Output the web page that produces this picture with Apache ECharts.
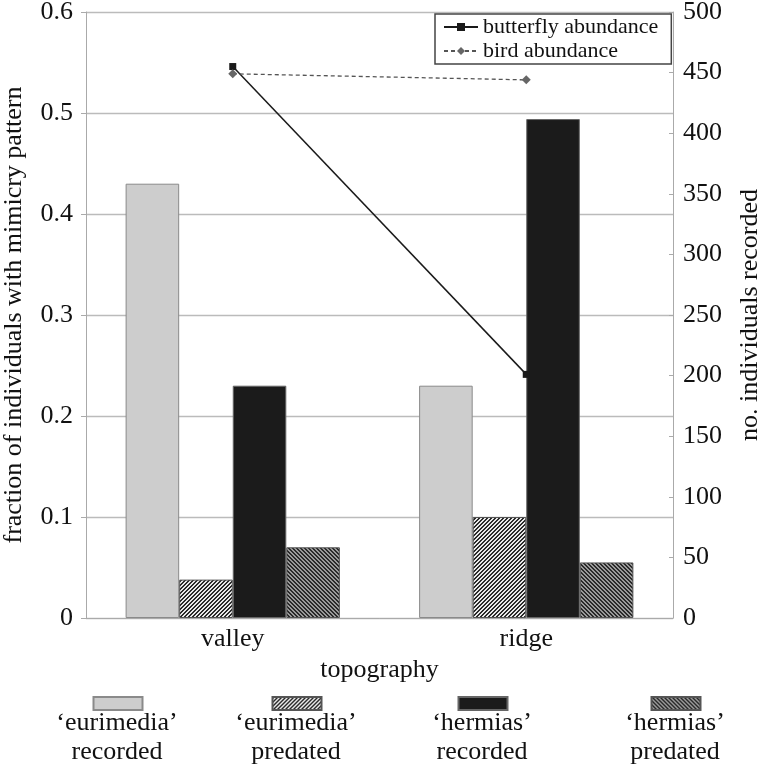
<!DOCTYPE html>
<html><head><meta charset="utf-8">
<script src="https://cdn.jsdelivr.net/npm/echarts@6/dist/echarts.min.js"></script>
<style>html,body{margin:0;padding:0;background:#fff}#c{width:764px;height:766px}</style>
</head><body><div id="c"></div>
<script>
const categories = ['valley', 'ridge'];
const eurimediaRecorded = [0.43, 0.23];
const eurimediaPredated = [0.038, 0.10];
const hermiasRecorded = [0.23, 0.494];
const hermiasPredated = [0.07, 0.055];
const butterflyAbundance = [455, 201];
const birdAbundance = [449, 444];
const leftTicks = {min: 0, max: 0.6, interval: 0.1};
const rightTicks = {min: 0, max: 500, interval: 50};
const barNames = ["‘eurimedia’ recorded", "‘eurimedia’ predated", "‘hermias’ recorded", "‘hermias’ predated"];
const barLabels = [["‘eurimedia’", "recorded"], ["‘eurimedia’", "predated"], ["‘hermias’", "recorded"], ["‘hermias’", "predated"]];
const lineNames = ['butterfly abundance', 'bird abundance'];

function makePattern(dir, fg, bg) {
  const c = document.createElement('canvas');
  c.width = 4; c.height = 4;
  const ctx = c.getContext('2d');
  ctx.fillStyle = bg; ctx.fillRect(0, 0, 4, 4);
  ctx.fillStyle = fg;
  for (let x = 0; x < 4; x++) for (let y = 0; y < 4; y++) {
    const k = dir > 0 ? (x + y) % 4 : ((x - y) % 4 + 4) % 4;
    if (k === 0 || k === 1) ctx.fillRect(x, y, 1, 1);
  }
  return {image: c, repeat: 'repeat'};
}
const patUp = makePattern(1, '#2a2a2a', '#e8e8e8');
const patDown = makePattern(-1, '#2a2a2a', '#9a9a9a');

const FONT = "Liberation Serif";
const chart = echarts.init(document.getElementById('c'));
const barStyles = [
  {color: '#cdcdcd', borderColor: '#8a8a8a', borderWidth: 1},
  {color: patUp, borderColor: '#555', borderWidth: 1},
  {color: '#1b1b1b', borderColor: '#666', borderWidth: 1},
  {color: patDown, borderColor: '#555', borderWidth: 1}
];
const barData = [eurimediaRecorded, eurimediaPredated, hermiasRecorded, hermiasPredated];
const legendCenters = [117, 296, 482, 675];
const ICON_W = 49;

const series = barData.map((d, i) => ({
  name: barNames[i], type: 'bar', yAxisIndex: 0, data: d,
  barCategoryGap: '27%', barGap: '0%',
  itemStyle: barStyles[i], emphasis: {disabled: true}
}));
series.push({
  name: lineNames[0], type: 'line', yAxisIndex: 1, data: butterflyAbundance,
  symbol: 'rect', symbolSize: 7, z: 5,
  lineStyle: {color: '#1a1a1a', width: 1.5}, itemStyle: {color: '#1a1a1a'}
});
series.push({
  name: lineNames[1], type: 'line', yAxisIndex: 1, data: birdAbundance,
  symbol: 'diamond', symbolSize: 9, z: 5,
  lineStyle: {color: '#555', width: 1.3, type: [4, 3]}, itemStyle: {color: '#666'}
});

const legends = [{
  data: lineNames, orient: 'vertical', left: 435, top: 14, itemGap: 2,
  itemWidth: 34, itemHeight: 10, padding: [2, 13, 2, 8],
  borderColor: '#444', borderWidth: 1.5, backgroundColor: '#fff',
  textStyle: {fontFamily: FONT, fontSize: 22, color: '#111'}
}];
barNames.forEach((n, i) => legends.push({
  data: [{name: n, icon: 'rect'}], left: legendCenters[i] - ICON_W / 2, top: 696, padding: 0,
  itemWidth: ICON_W, itemHeight: 13, formatter: () => '', selectedMode: false
}));

const graphics = [];
barLabels.forEach((ls, i) => ls.forEach((t, j) => graphics.push({
  type: 'text', x: legendCenters[i], y: 723 + j * 29,
  style: {text: t, font: '26px "Liberation Serif", serif', fill: '#111', textAlign: 'center', textVerticalAlign: 'middle'}
})));

chart.setOption({
  animation: false,
  backgroundColor: '#fff',
  grid: {left: 86, right: 91, top: 12, bottom: 148, outerBoundsMode: 'none', containLabel: false},
  legend: legends,
  graphic: graphics,
  xAxis: {
    type: 'category', data: categories,
    name: 'topography', nameLocation: 'middle', nameGap: 34,
    nameTextStyle: {fontFamily: FONT, fontSize: 26, color: '#111'},
    axisLine: {lineStyle: {color: '#aaa'}}, axisTick: {show: false},
    axisLabel: {fontFamily: FONT, fontSize: 26, color: '#111', margin: 8}
  },
  yAxis: [{
    type: 'value', ...leftTicks,
    name: 'fraction of individuals with mimicry pattern', nameLocation: 'middle', nameRotate: 90, nameGap: 59,
    nameTextStyle: {fontFamily: FONT, fontSize: 26, color: '#111'},
    axisLine: {show: true, lineStyle: {color: '#aaa'}},
    axisTick: {show: true, length: 5, lineStyle: {color: '#aaa'}},
    axisLabel: {fontFamily: FONT, fontSize: 26, color: '#111', margin: 13},
    splitLine: {lineStyle: {color: '#bbb', width: 1.3}}
  }, {
    type: 'value', ...rightTicks, position: 'right',
    name: 'no. individuals recorded', nameLocation: 'middle', nameRotate: 90, nameGap: 64,
    nameTextStyle: {fontFamily: FONT, fontSize: 26, color: '#111'},
    axisLine: {show: true, lineStyle: {color: '#aaa'}},
    axisTick: {show: true, inside: true, length: 4, lineStyle: {color: '#aaa'}},
    axisLabel: {fontFamily: FONT, fontSize: 26, color: '#111', margin: 10},
    splitLine: {show: false}
  }],
  series: series
});
</script></body></html>
